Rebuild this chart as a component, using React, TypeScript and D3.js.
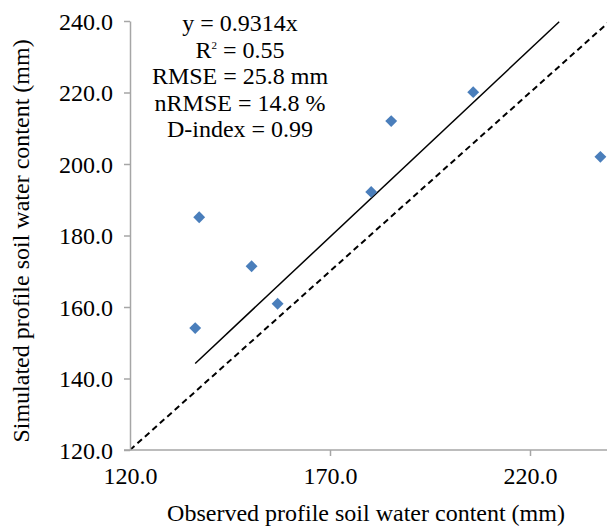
import React, { useEffect, useRef } from 'react';
import * as d3 from 'd3';

// observed vs simulated profile soil water content (mm)
const observed = [136.3, 137.3, 150.4, 156.9, 180.3, 185.3, 205.8, 237.6];
const simulated = [154.1, 185.1, 171.4, 160.9, 192.2, 212.0, 220.1, 202.0];

// trendline as drawn in the chart (start / end)
const trendX = [136.3, 227.3];
const trendY = [144.2, 239.8];

const xTicks = [120, 170, 220];
const yTicks = [120, 140, 160, 180, 200, 220, 240];

const statsLines = ['y = 0.9314x', 'R2 = 0.55', 'RMSE = 25.8 mm', 'nRMSE = 14.8 %', 'D-index = 0.99'];

const W = 607;
const H = 527;
const FONT = "'Liberation Serif', 'Times New Roman', serif";

const App = () => {
    const svgRef = useRef<SVGSVGElement>(null);

    useEffect(() => {
        const svg = d3.select(svgRef.current);
        svg.selectAll('*').remove();

        const x = d3.scaleLinear().domain([120, 240]).range([130, 610]);
        const y = d3.scaleLinear().domain([120, 240]).range([450, 21]);

        svg.append('defs').append('clipPath').attr('id', 'plot')
            .append('rect').attr('x', 130).attr('y', 0).attr('width', W - 130).attr('height', 450);

        // 1:1 line
        svg.append('line')
            .attr('clip-path', 'url(#plot)')
            .attr('x1', x(120)).attr('y1', y(120))
            .attr('x2', x(240)).attr('y2', y(240))
            .attr('stroke', '#000')
            .attr('stroke-width', 2)
            .attr('stroke-dasharray', '6,4');

        // trendline
        svg.append('line')
            .attr('x1', x(trendX[0])).attr('y1', y(trendY[0]))
            .attr('x2', x(trendX[1])).attr('y2', y(trendY[1]))
            .attr('stroke', '#000')
            .attr('stroke-width', 1.5);

        // axes
        const axisColor = '#a6a6a6';
        const gx = svg.append('g').attr('transform', `translate(0,${y(120)})`)
            .call(d3.axisBottom(x).tickValues(xTicks).tickSize(6).tickSizeOuter(0).tickFormat(d3.format('.1f')));
        gx.select('.domain').attr('d', `M${x(120) - 6},0H${W + 5}`);
        const gy = svg.append('g').attr('transform', `translate(${x(120)},0)`)
            .call(d3.axisLeft(y).tickValues(yTicks).tickSize(6).tickSizeOuter(0).tickFormat(d3.format('.1f')));

        [gx, gy].forEach(g => {
            g.attr('font-family', null).attr('font-size', 24);
            g.select('.domain').attr('stroke', axisColor).attr('stroke-width', 1.5);
            g.selectAll('.tick line').attr('stroke', axisColor).attr('stroke-width', 1.5);
            g.selectAll('.tick text').attr('fill', '#000');
        });
        gx.selectAll('.tick text').attr('dy', '0.71em').attr('y', 17);
        gx.selectAll('.tick').filter(d => d === 120).select('line').remove();
        gy.selectAll('.tick text').attr('x', -17).attr('dy', '0.34em');

        // points
        svg.selectAll('.pt')
            .data(observed)
            .enter()
            .append('path')
            .attr('class', 'pt')
            .attr('transform', (d, i) => `translate(${x(d)},${y(simulated[i])})`)
            .attr('d', d3.symbol().type(d3.symbolDiamond2).size(90)())
            .attr('fill', '#4a7ebb');

        // stats text
        const t = svg.append('text')
            .attr('text-anchor', 'middle')
            .attr('font-size', 24)
            .attr('fill', '#000');
        statsLines.forEach((line, i) => {
            const ty = 31 + i * 26.5;
            if (line.startsWith('R2')) {
                const ts = t.append('tspan').attr('x', 240).attr('y', ty);
                ts.append('tspan').text('R');
                ts.append('tspan').attr('dy', -9).attr('font-size', 11).text('2');
                ts.append('tspan').attr('dy', 9).text(' = 0.55');
            } else {
                t.append('tspan').attr('x', 240).attr('y', ty).text(line);
            }
        });

        // axis titles
        svg.append('text')
            .attr('x', 366).attr('y', 521)
            .attr('text-anchor', 'middle')
            .attr('font-size', 24)
            .text('Observed profile soil water content (mm)');

        svg.append('text')
            .attr('transform', `translate(29,${241}) rotate(-90)`)
            .attr('text-anchor', 'middle')
            .attr('font-size', 24)
            .text('Simulated profile soil water content (mm)');
    }, []);

    return (
        <svg ref={svgRef} width={W} height={H}
            style={{ position: 'absolute', left: 0, top: 0, background: '#fff', fontFamily: FONT }} />
    );
};

export default App;
